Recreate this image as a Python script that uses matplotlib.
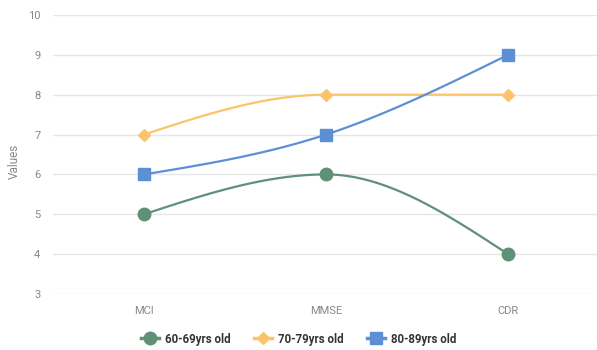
import numpy as np
import matplotlib
matplotlib.use("Agg")
import matplotlib.pyplot as plt
from matplotlib.lines import Line2D

plt.rcParams["font.family"] = ["Roboto", "DejaVu Sans"]

# ---------- data ----------
categories = ["MCI", "MMSE", "CDR"]
age_60_69 = [5, 6, 4]
age_70_79 = [7, 8, 8]
age_80_89 = [6, 7, 9]

series_names = ["60-69yrs old", "70-79yrs old", "80-89yrs old"]
colors = ["#5f9177", "#fcc46a", "#5d8fd5"]
markers = ["o", "D", "s"]
msizes = [9, 6.5, 9]


# ---------- helpers ----------
def monotone_curve(x, y, n=60):
    """Monotone cubic (monotoneX style) curve through the points."""
    x = np.asarray(x, dtype=float)
    y = np.asarray(y, dtype=float)
    h = np.diff(x)
    d = np.diff(y) / h
    m = np.zeros_like(y)
    for i in range(1, len(y) - 1):
        if d[i - 1] * d[i] <= 0:
            m[i] = 0.0
        else:
            p = (d[i - 1] * h[i] + d[i] * h[i - 1]) / (h[i - 1] + h[i])
            m[i] = np.sign(d[i - 1]) * min(2 * abs(d[i - 1]), 2 * abs(d[i]), abs(p))
    m[0] = (3 * d[0] - m[1]) / 2
    m[-1] = (3 * d[-1] - m[-2]) / 2
    xs, ys = [], []
    for i in range(len(h)):
        t = np.linspace(0, 1, n)
        h00 = 2 * t**3 - 3 * t**2 + 1
        h10 = t**3 - 2 * t**2 + t
        h01 = -2 * t**3 + 3 * t**2
        h11 = t**3 - t**2
        xs.append(x[i] + t * h[i])
        ys.append(h00 * y[i] + h10 * h[i] * m[i] + h01 * y[i + 1] + h11 * h[i] * m[i + 1])
    return np.concatenate(xs), np.concatenate(ys)


# ---------- figure ----------
fig = plt.figure(figsize=(5.97, 3.5), dpi=100)
ax = fig.add_axes([53 / 597, 1 - 294 / 350, 546 / 597, 279 / 350])

xpos = np.arange(len(categories))
for vals, name, c, mk, ms in zip([age_60_69, age_70_79, age_80_89],
                                 series_names, colors, markers, msizes):
    cx, cy = monotone_curve(xpos, vals)
    ax.plot(cx, cy, color=c, lw=1.6, zorder=2)
    ax.plot(xpos, vals, linestyle="none", marker=mk, markersize=ms,
            color=c, markeredgecolor=c, zorder=3)

ax.set_xlim(-0.5, 2.5)
ax.set_ylim(3, 10)
ax.set_yticks(range(3, 11))
ax.set_xticks(xpos)
ax.set_xticklabels(categories)
ax.grid(axis="y", color="#e6e6e6", lw=1)
ax.set_axisbelow(True)
for s in ax.spines.values():
    s.set_visible(False)
ax.tick_params(axis="both", length=0, colors="#888888", labelsize=8)
ax.tick_params(axis="y", pad=9)
ax.tick_params(axis="x", pad=9)

# axis title placed in figure pixels
fig.text(14 / 597, 1 - 161 / 350, "Values", rotation=90, ha="center", va="center",
         color="#888888", fontsize=8.5)

handles = [Line2D([0], [0], color=c, lw=2.5, marker=mk, markersize=ms,
                  markeredgecolor=c)
           for c, mk, ms in zip(colors, markers, msizes)]
leg = fig.legend(handles, series_names, loc="center", bbox_to_anchor=(0.5, 1 - 339 / 350),
                 ncol=3, frameon=False, handlelength=1.6, handletextpad=0.5,
                 columnspacing=2.0, prop={"weight": "bold", "size": 8.3})
for t in leg.get_texts():
    t.set_color("#333333")

fig.savefig("out.png", dpi=100)
